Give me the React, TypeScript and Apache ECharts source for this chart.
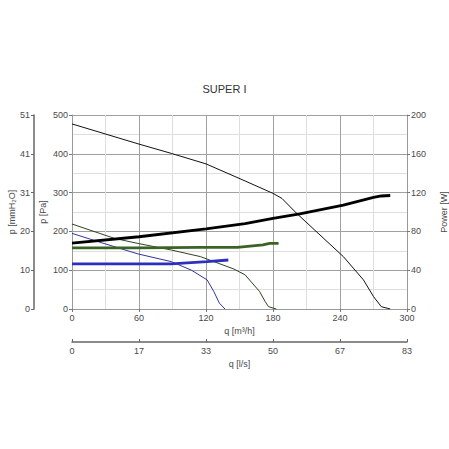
import React, { useEffect, useRef } from "react";
import * as echarts from "echarts";

const titleText = "SUPER I";
const mmLabels = ["0", "10", "20", "31", "41", "51"];
const lsLabels = ["0", "17", "33", "50", "67", "83"];

// Pressure curves [m³/h, Pa]
const qMaxP = [0, 60, 89, 120, 155, 180, 188, 201, 243, 261, 270, 277, 285];
const pMax = [477, 425, 401, 374, 330, 298, 285, 247, 135, 75, 32, 6, 0];
const qMedP = [0, 38, 59, 89, 115, 145, 155, 168, 173, 176, 183];
const pMed = [219, 182, 169, 152, 135, 103, 88, 45, 19, 6, 0];
const qMinP = [0, 24, 59, 89, 107, 121, 127, 132, 137];
const pMin = [195, 173, 142, 122, 100, 75, 45, 15, 0];

// Power curves [m³/h, W]
const qMaxW = [0, 60, 120, 155, 180, 204, 243, 270, 277, 285];
const wMax = [68, 74.5, 82.5, 88, 93.5, 98, 107, 115, 116.5, 117];
const qMedW = [0, 60, 115, 148, 171, 177, 185];
const wMed = [63, 63, 63.5, 63.6, 66, 67.7, 67.7];
const qMinW = [0, 60, 89, 121, 140];
const wMin = [46.5, 46.5, 46.5, 48.8, 50.5];

const zip = (a: number[], b: number[]) => a.map((v, i) => [v, b[i]]);

const FONT = "Liberation Sans";
const TXT = "#4a4a4a";

export default function App() {
  const ref = useRef<HTMLDivElement>(null);
  useEffect(() => {
    const chart = echarts.init(ref.current!, null, { renderer: "svg" });
    const labelStyle = { color: TXT, fontFamily: FONT, fontSize: 9 };
    const nameStyle = { color: TXT, fontFamily: FONT, fontSize: 9 };
    const line = (name: string, data: number[][], color: string, width: number, yIdx: number) => ({
      name,
      type: "line",
      data,
      yAxisIndex: yIdx,
      xAxisIndex: 0,
      showSymbol: false,
      symbol: "none",
      lineStyle: { color, width },
      itemStyle: { color },
      z: width > 1.5 ? 3 : 2,
    });
    chart.setOption({
      animation: false,
      title: {
        text: titleText,
        left: "center",
        top: 78,
        textStyle: { color: "#333", fontFamily: FONT, fontSize: 11, fontWeight: "normal" },
      },
      grid: {
        left: 72,
        right: 42,
        top: 115,
        bottom: 140,
        containLabel: false,
        outerBoundsMode: "none",
      },
      xAxis: [
        {
          type: "value",
          min: 0,
          max: 300,
          interval: 60,
          position: "bottom",
          name: "q [m³/h]",
          nameLocation: "middle",
          nameGap: 17,
          nameMoveOverlap: false,
          nameTextStyle: nameStyle,
          axisLine: { show: true, onZero: false, lineStyle: { color: "#999" } },
          axisTick: { show: true, length: 3, lineStyle: { color: "#777" } },
          axisLabel: { ...labelStyle, margin: 4 },
          splitLine: { show: true, lineStyle: { color: "#a0a0a0", width: 1 } },
          minorTick: { show: false, splitNumber: 2 },
          minorSplitLine: { show: true, lineStyle: { color: "#dedede", width: 1 } },
        },
        {
          type: "value",
          min: 0,
          max: 300,
          interval: 60,
          position: "bottom",
          offset: 33,
          name: "q [l/s]",
          nameLocation: "middle",
          nameGap: 17,
          nameMoveOverlap: false,
          nameTextStyle: nameStyle,
          axisLine: { show: true, onZero: false, lineStyle: { color: "#666", width: 1.5 } },
          axisTick: { show: true, inside: true, length: 3, lineStyle: { color: "#666" } },
          axisLabel: {
            ...labelStyle,
            margin: 4,
            formatter: (v: number) => lsLabels[Math.round(v / 60)] ?? "",
          },
          splitLine: { show: false },
        },
      ],
      yAxis: [
        {
          type: "value",
          min: 0,
          max: 500,
          interval: 100,
          position: "left",
          name: "p [Pa]",
          nameLocation: "middle",
          nameGap: 25,
          nameMoveOverlap: false,
          nameRotate: 90,
          nameTextStyle: nameStyle,
          axisLine: { show: true, onZero: false, lineStyle: { color: "#999" } },
          axisTick: { show: true, length: 3, lineStyle: { color: "#777" } },
          axisLabel: { ...labelStyle, margin: 4 },
          splitLine: { show: true, lineStyle: { color: "#a0a0a0", width: 1 } },
          minorTick: { show: false, splitNumber: 2 },
          minorSplitLine: { show: true, lineStyle: { color: "#dedede", width: 1 } },
        },
        {
          type: "value",
          min: 0,
          max: 500,
          interval: 100,
          position: "left",
          offset: 38,
          name: "p [mmH₂O]",
          nameLocation: "middle",
          nameGap: 18,
          nameMoveOverlap: false,
          nameRotate: 90,
          nameTextStyle: nameStyle,
          axisLine: { show: true, onZero: false, lineStyle: { color: "#666", width: 1.5 } },
          axisTick: { show: true, length: 3, lineStyle: { color: "#666" } },
          axisLabel: {
            ...labelStyle,
            margin: 4,
            formatter: (v: number) => mmLabels[Math.round(v / 100)] ?? "",
          },
          splitLine: { show: false },
        },
        {
          type: "value",
          min: 0,
          max: 200,
          interval: 40,
          position: "right",
          name: "Power [W]",
          nameLocation: "middle",
          nameGap: 32,
          nameMoveOverlap: false,
          nameRotate: 90,
          nameTextStyle: nameStyle,
          axisLine: { show: true, onZero: false, lineStyle: { color: "#999" } },
          axisTick: { show: true, length: 3, lineStyle: { color: "#777" } },
          axisLabel: { ...labelStyle, margin: 4 },
          splitLine: { show: false },
        },
      ],
      series: [
        line("p max", zip(qMaxP, pMax), "#111111", 1, 0),
        line("p med", zip(qMedP, pMed), "#2e4322", 1, 0),
        line("p min", zip(qMinP, pMin), "#33339a", 1, 0),
        line("W max", zip(qMaxW, wMax), "#000000", 2.8, 2),
        line("W med", zip(qMedW, wMed), "#3b6326", 2.8, 2),
        line("W min", zip(qMinW, wMin), "#2f2fbf", 2.8, 2),
      ],
    });
    return () => chart.dispose();
  }, []);
  return (
    <div
      ref={ref}
      style={{ position: "fixed", left: 0, top: 0, width: 449, height: 449, background: "#fff" }}
    />
  );
}
